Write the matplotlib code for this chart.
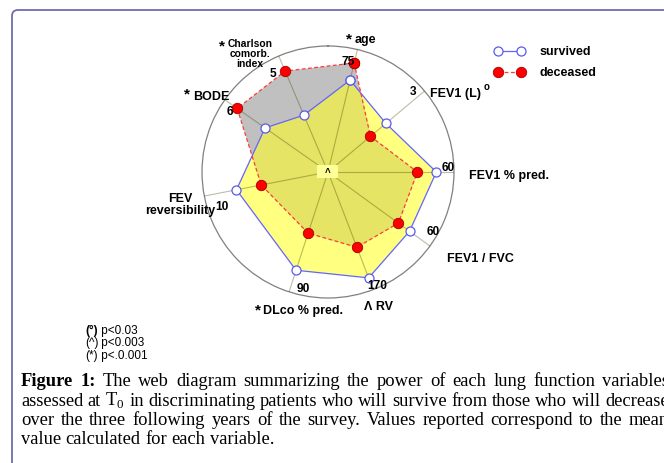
import numpy as np
import matplotlib.pyplot as plt
from matplotlib.patches import FancyBboxPatch, Rectangle

W, H = 664, 463

# spoke variables, clockwise from the top
variables = ['age', 'FEV1 (L)', 'FEV1 % pred.', 'FEV1 / FVC', 'RV',
             'DLco % pred.', 'FEV reversibility', 'BODE', 'Charlson comorb. index']
# direction of each spoke (degrees clockwise from north), as drawn in the figure
angles_deg = [13.5, 50, 90, 126, 159, 198, 259, 305, 337]
# mean values as a fraction of each axis' full scale
survived = [0.75, 0.60, 0.86, 0.80, 0.90, 0.82, 0.74, 0.61, 0.49]
deceased = [0.89, 0.44, 0.71, 0.69, 0.64, 0.51, 0.54, 0.88, 0.87]
scale_labels = ['75', '3', '60', '60', '170', '90', '10', '6', '5']
p_notes = [('(°)', ' p<0.03'), ('(^)', ' p<0.003'), ('(*)', ' p<.0.001')]
caption = ['Figure 1: The web diagram summarizing the power of each lung function variables',
           r'assessed at T$_\mathregular{0}$ in discriminating patients who will survive from those who will decrease',
           'over the three following years of the survey. Values reported correspond to the mean',
           'value calculated for each variable.']

plt.rcParams['font.family'] = ['Liberation Sans', 'DejaVu Sans']
plt.rcParams['mathtext.fontset'] = 'custom'
plt.rcParams['mathtext.rm'] = 'Liberation Serif'

fig = plt.figure(figsize=(W / 100, H / 100), dpi=100)
rend = fig.canvas.get_renderer()

# overlay axes in pixel coordinates for texts and the frame
ax0 = fig.add_axes([0, 0, 1, 1])
ax0.set_xlim(0, W)
ax0.set_ylim(H, 0)
ax0.axis('off')
ax0.add_patch(FancyBboxPatch((12, 10), 720, 520, boxstyle='round,pad=0,rounding_size=6',
                             fill=False, edgecolor='#6E6EAA', lw=1.3))

# radar
cx, cy, R = 328, 172, 126
ax = fig.add_axes([(cx - R) / W, 1 - (cy + R) / H, 2 * R / W, 2 * R / H], projection='polar')
ax.set_theta_zero_location('N')
ax.set_theta_direction(-1)
ax.set_ylim(0, 1)
ax.set_xticks([])
ax.set_yticks([])
ax.grid(False)
ax.set_facecolor('none')
ax.spines['polar'].set_color('#808080')
ax.spines['polar'].set_linewidth(0.9)

theta = np.deg2rad(angles_deg)
th_c = np.append(theta, theta[0])
surv_c = np.append(survived, survived[0])
dec_c = np.append(deceased, deceased[0])

yel = ax.fill(th_c, surv_c, color='#FFFF80', lw=0, zorder=1)[0]
gry = ax.fill(th_c, dec_c, color='#C0C0C0', lw=0, zorder=2)[0]
ovl = ax.fill(th_c, surv_c, color='#E6E464', lw=0, zorder=3)[0]
ovl.set_clip_path(gry)

for t in theta:
    ax.plot([t, t], [0, 1], color='#404000', alpha=0.35, lw=0.8, zorder=4)

l1, = ax.plot(th_c, surv_c, color='#6464FF', lw=0.9, marker='o', ms=6.5,
              mfc='white', mec='#5A5AF0', mew=0.9, zorder=6)
l2, = ax.plot(th_c, dec_c, color='#FF3A3A', lw=0.9, ls=(0, (3, 2)), marker='o', ms=7.5,
              mfc='#FF0000', mec='#A00000', mew=0.6, zorder=7)

# small box in the centre
ax0.add_patch(Rectangle((317, 165), 21, 13, facecolor='#FFFF99', edgecolor='none', zorder=5))
ax0.text(327.5, 173, '^', fontsize=7, fontweight='bold', ha='center', va='center', zorder=6)
ax0.set_zorder(2)

fig.legend([l1, l2], ['survived', 'deceased'], numpoints=2, frameon=False,
           loc='upper left', bbox_to_anchor=(494 / W, 1 - 46 / H),
           borderpad=0, borderaxespad=0, handlelength=2.45, handletextpad=1.2,
           labelspacing=0.75, prop=dict(weight='bold', size=9))

# spoke names and scale values
lab = dict(fontweight='bold', fontsize=9, va='center')
num = dict(fontweight='bold', fontsize=8.6, ha='center', va='center')
star = dict(fontweight='bold', fontsize=11, ha='center', va='center')

ax0.text(349, 39, '*', **star)
ax0.text(355, 40, variables[0], ha='left', **lab)
ax0.text(430, 94, variables[1], ha='left', **lab)
ax0.text(487, 87, 'o', fontsize=7, fontweight='bold', ha='center', va='center')
ax0.text(469, 176, variables[2], ha='left', **lab)
ax0.text(447, 259, variables[3], ha='left', **lab)
ax0.text(364, 307, 'Λ ' + variables[4], ha='left', **lab)
ax0.text(258, 310, '*', **star)
ax0.text(263, 311, variables[5], ha='left', **lab)
ax0.text(180, 205, 'FEV\nreversibility', ha='center', linespacing=1.05, **lab)
ax0.text(187, 94, '*', **star)
ax0.text(193, 97, variables[7], ha='left', **lab)
ax0.text(222, 46, '*', **star)
ax0.text(250, 54, 'Charlson\ncomorb.\nindex', ha='center', va='center',
         fontweight='bold', fontsize=7.4, linespacing=1.05)

num_pos = [(348, 62), (413, 92), (448, 168), (433, 232), (377, 286),
           (303, 289), (222, 207), (230, 112), (273, 74)]
for (x, y), s in zip(num_pos, scale_labels):
    ax0.text(x, y, s, **num)

# significance notes
for i, (a, b) in enumerate(p_notes):
    y = 331 + i * 12.3
    t = ax0.text(85, y, a, fontsize=8.5, fontweight='bold' if i == 0 else 'normal', va='center')
    ax0.annotate(b, xy=(1, 0.5), xycoords=t, fontsize=8.5, va='center', ha='left')


# caption, justified like the journal page (text box runs past the image edge)
def put_line(line, y, x0, x1, justify):
    words = line.split(' ')
    texts = []
    for k, w in enumerate(words):
        bold = line.startswith('Figure') and k < 2
        texts.append(ax0.text(x0, y, w, family='Liberation Serif', fontsize=13.3,
                              fontweight='bold' if bold else 'normal', va='baseline'))
    widths = [t.get_window_extent(rend).width for t in texts]
    space = 4.6
    if justify:
        space = (x1 - x0 - sum(widths)) / (len(words) - 1)
    x = x0
    for t, w in zip(texts, widths):
        t.set_x(x)
        x += w + space


for i, line in enumerate(caption):
    put_line(line, 386 + i * 19.5, 21, 669, i < 3)

fig.savefig('out.png', dpi=100)
